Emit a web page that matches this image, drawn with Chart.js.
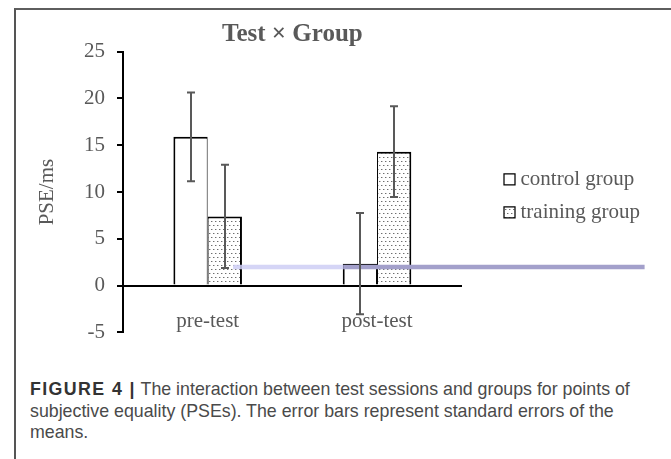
<!DOCTYPE html>
<html>
<head>
<meta charset="utf-8">
<script src="https://cdn.jsdelivr.net/npm/chart.js@4/dist/chart.umd.min.js"></script>
<style>
  html, body { margin: 0; padding: 0; background: #fff; }
  body { width: 671px; height: 459px; overflow: hidden; position: relative; }
  #frame { position: absolute; left: 14px; top: 8px; width: 700px; height: 500px;
           border-left: 2px solid #555; border-top: 2px solid #5e5e5e; box-sizing: border-box; }
  #c { position: absolute; left: 0; top: 0; }
  #caption { position: absolute; left: 30px; top: 379px; white-space: nowrap;
             font-family: "Liberation Sans", Arial, sans-serif; font-size: 17.8px; line-height: 21.5px; color: #4a4a4a; }
  #caption b { color: #333; letter-spacing: 1.4px; }
</style>
</head>
<body>
<div id="frame"></div>
<canvas id="c" width="671" height="357"></canvas>
<div id="caption"><b>FIGURE 4 |</b> The interaction between test sessions and groups for points of<br>subjective equality (PSEs). The error bars represent standard errors of the<br>means.</div>
<script>
// ---- data ----
const categories = ['pre-test', 'post-test'];
const seriesNames = ['control group', 'training group'];
const controlMeans = [15.9, 2.35];
const controlErrors = [4.75, 5.42];
const trainingMeans = [7.4, 14.32];
const trainingErrors = [5.52, 4.86];
const yTickValues = [-5, 0, 5, 10, 15, 20, 25];
// horizontal highlight line in the figure (x in category-index units, y in ms)
const noteLineX = [0.15, 0.80, 2.58];
const noteLineY = 2.0;

const SERIF = '"Liberation Serif", "Times New Roman", serif';
const GREY = '#595959';

const canvas = document.getElementById('c');
const ctx0 = canvas.getContext('2d');

// dotted fill for the training group
const tile = document.createElement('canvas');
tile.width = 4; tile.height = 8;
const tg = tile.getContext('2d');
tg.fillStyle = '#ffffff'; tg.fillRect(0, 0, 4, 8);
tg.fillStyle = '#6e6e6e';
tg.fillRect(1, 1, 1, 1);
tg.fillRect(3, 5, 1, 1);
tg.fillStyle = '#c4c4c4';
tg.fillRect(2, 1, 1, 1);
tg.fillRect(0, 5, 1, 1);
const dots = ctx0.createPattern(tile, 'repeat');

// highlight line, positioned through the chart's own x (category) and y scales
const noteLinePlugin = {
  id: 'noteLine',
  afterDatasetsDraw(chart) {
    const { ctx } = chart;
    const x = chart.scales.x, y = chart.scales.y;
    const py = y.getPixelForValue(noteLineY);
    const colors = ['rgba(206,206,245,0.85)', '#a3a0cb'];
    ctx.save();
    ctx.lineWidth = 4.5;
    for (let i = 0; i < noteLineX.length - 1; i++) {
      ctx.strokeStyle = colors[Math.min(i, colors.length - 1)];
      ctx.beginPath();
      ctx.moveTo(x.getPixelForValue(noteLineX[i]), py);
      ctx.lineTo(x.getPixelForValue(noteLineX[i + 1]), py);
      ctx.stroke();
    }
    ctx.restore();
  }
};

const errorBarPlugin = {
  id: 'errorBars',
  afterDatasetsDraw(chart) {
    const { ctx } = chart;
    const y = chart.scales.y;
    ctx.save();
    ctx.strokeStyle = GREY;
    ctx.lineWidth = 2;
    [[0, controlMeans, controlErrors], [1, trainingMeans, trainingErrors]].forEach(([di, means, errs]) => {
      const meta = chart.getDatasetMeta(di);
      meta.data.forEach((bar, i) => {
        const x = Math.round(bar.x);
        const yHi = y.getPixelForValue(means[i] + errs[i]);
        const yLo = y.getPixelForValue(means[i] - errs[i]);
        const cap = 4;
        ctx.beginPath();
        ctx.moveTo(x, yHi); ctx.lineTo(x, yLo);
        ctx.moveTo(x - cap, yHi); ctx.lineTo(x + cap, yHi);
        ctx.moveTo(x - cap, yLo); ctx.lineTo(x + cap, yLo);
        ctx.stroke();
      });
    });
    ctx.restore();
  }
};

new Chart(canvas, {
  type: 'bar',
  data: {
    labels: categories,
    datasets: [
      {
        label: seriesNames[0],
        data: controlMeans,
        backgroundColor: '#ffffff',
        borderColor: '#000000',
        borderWidth: { top: 2, left: 2, right: 1, bottom: 0 },
        borderSkipped: false
      },
      {
        label: seriesNames[1],
        data: trainingMeans,
        backgroundColor: dots,
        borderColor: '#000000',
        borderWidth: { top: 2, left: 1, right: 2, bottom: 0 },
        borderSkipped: false
      }
    ]
  },
  options: {
    responsive: false,
    animation: false,
    layout: { padding: { left: 14, right: 24, top: 0, bottom: 5.7 } },
    datasets: { bar: { categoryPercentage: 0.405, barPercentage: 1 } },
    scales: {
      x: {
        type: 'category',
        position: { y: 0 },
        offset: true,
        z: 1,
        grid: { display: false, drawTicks: false },
        border: { display: true, color: '#000', width: 2 },
        ticks: { color: GREY, padding: 23, font: { family: SERIF, size: 21 } }
      },
      y: {
        type: 'linear',
        position: 'left',
        min: -5, max: 25,
        afterBuildTicks: s => { s.ticks = yTickValues.map(v => ({ value: v })); },
        afterFit: s => { s.width = 109; },
        grid: { drawOnChartArea: false, drawTicks: true, tickLength: 6, tickColor: '#000', tickWidth: 2, lineWidth: 2, color: '#000' },
        border: { display: true, color: '#000', width: 2 },
        ticks: { color: GREY, padding: 12, font: { family: SERIF, size: 21 } },
        title: { display: true, text: 'PSE/ms', color: GREY, font: { family: SERIF, size: 21 }, padding: { top: 20.4, bottom: 0 } }
      },
      y2: {
        type: 'linear',
        position: 'right',
        display: true,
        afterFit: s => { s.width = 35.3; },
        grid: { display: false, drawTicks: false },
        border: { display: false },
        ticks: { display: false }
      }
    },
    plugins: {
      tooltip: { enabled: false },
      title: {
        display: true,
        text: 'Test × Group',
        fullSize: false,
        color: GREY,
        font: { family: SERIF, size: 25, weight: 'bold' },
        padding: { top: 20, bottom: 1.7 }
      },
      legend: {
        position: 'right',
        fullSize: false,
        maxWidth: 150,
        title: { display: true, text: '', padding: { top: 6.4, bottom: 0 }, font: { size: 1 } },
        labels: {
          usePointStyle: true,
          pointStyle: 'rect',
          boxWidth: 1,
          boxHeight: 11,
          padding: 12,
          color: GREY,
          font: { family: SERIF, size: 21 }
        }
      }
    }
  },
  plugins: [noteLinePlugin, errorBarPlugin]
});
</script>
</body>
</html>
